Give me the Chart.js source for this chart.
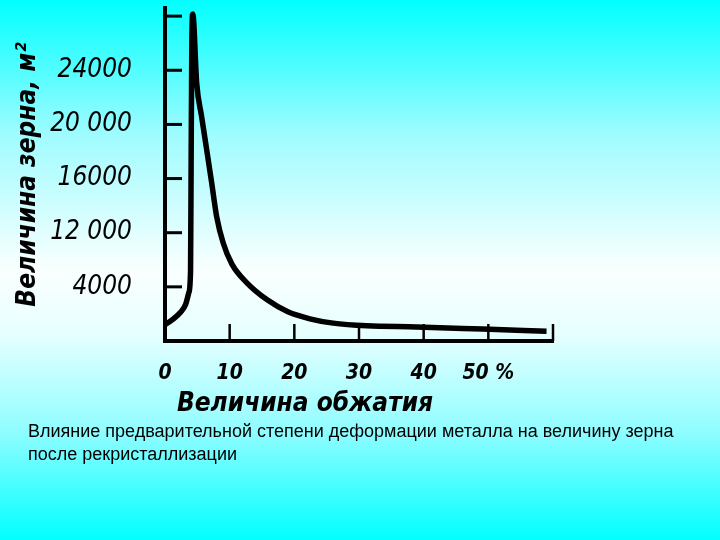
<!DOCTYPE html>
<html>
<head>
<meta charset="utf-8">
<script src="https://cdn.jsdelivr.net/npm/chart.js@4"></script>
<style>
  html, body { margin: 0; padding: 0; }
  body {
    width: 720px; height: 540px; overflow: hidden; position: relative;
    background: linear-gradient(to bottom, #00ffff 0%, #9ffcff 25%, #fafffe 50%, #e6ffff 62%, #8ffdff 80%, #00ffff 100%);
  }
  #wrap { position: absolute; left: 0; top: 0; width: 720px; height: 540px; }
  #caption {
    position: absolute; left: 28px; top: 420px; width: 680px;
    font-family: "Liberation Sans", Arial, sans-serif; font-size: 18px; line-height: 23px; color: #000;
  }
</style>
</head>
<body>
<div id="wrap"><canvas id="chart" width="720" height="540"></canvas></div>
<div id="caption">Влияние предварительной степени деформации металла на величину зерна<br>после рекристаллизации</div>
<script>
// ── Data (x: % reduction, y: grain size in tick units) ──
const deformation = [0, 1.2, 2.4, 3.2, 3.7, 3.95, 4.05, 4.15, 4.3, 4.9, 5.67, 6.45, 7.22, 8.0, 9.0, 10.35, 12.7, 15.8, 19.0, 22.4, 26, 31.2, 38.9, 49.1, 59];
const grainSize   = [0.30, 0.40, 0.53, 0.68, 0.90, 1.30, 3.53, 5.56, 6.04, 4.76, 4.14, 3.53, 2.92, 2.29, 1.81, 1.42, 1.07, 0.76, 0.54, 0.41, 0.33, 0.28, 0.26, 0.22, 0.18];

const xTicks = [0, 10, 20, 30, 40, 50, 60];
const xTickLabels = ['0', '10', '20', '30', '40', '50 %', ''];
const yTicks = [0, 1, 2, 3, 4, 5, 6];
const yTickLabels = ['', '4000', '12 000', '16000', '20 000', '24000', ''];

const yTitle = 'Величина зерна, м²';
const xTitle = 'Величина обжатия';

const tickFont = { family: '"DejaVu Sans Condensed", "DejaVu Sans", sans-serif', style: 'italic', weight: 'bold' };

// ── Inward tick marks + x title ─────────────────────
const inwardTicks = {
  id: 'inwardTicks',
  afterDatasetsDraw(chart) {
    const { ctx, chartArea: a, scales: { x, y } } = chart;
    ctx.save();
    ctx.strokeStyle = '#000';
    ctx.lineWidth = 3;
    yTicks.slice(1).forEach(v => {
      const py = y.getPixelForValue(v);
      ctx.beginPath(); ctx.moveTo(a.left, py); ctx.lineTo(a.left + 17, py); ctx.stroke();
    });
    ctx.lineWidth = 2.5;
    xTicks.slice(1).forEach(v => {
      const px = x.getPixelForValue(v);
      ctx.beginPath(); ctx.moveTo(px, a.bottom); ctx.lineTo(px, a.bottom - 17); ctx.stroke();
    });
    ctx.fillStyle = '#000';
    ctx.font = 'italic bold 26px "DejaVu Sans Condensed", "DejaVu Sans", sans-serif';
    ctx.textAlign = 'center';
    ctx.textBaseline = 'middle';
    ctx.fillText(xTitle, 305, 404);
    ctx.restore();
  }
};

new Chart(document.getElementById('chart'), {
  type: 'line',
  data: {
    datasets: [{
      data: deformation.map((d, i) => ({ x: d, y: grainSize[i] })),
      borderColor: '#000', borderWidth: 5.5, pointRadius: 0,
      cubicInterpolationMode: 'monotone', fill: false, clip: false
    }]
  },
  options: {
    responsive: false,
    animation: false,
    layout: { padding: { top: 8, right: 167, bottom: 0, left: 0 } },
    plugins: { legend: { display: false }, tooltip: { enabled: false } },
    scales: {
      x: {
        type: 'linear', min: 0, max: 60,
        afterBuildTicks: s => { s.ticks = xTicks.map(v => ({ value: v })); },
        afterFit: s => { s.height = 199; s.paddingLeft = 0; s.paddingRight = 0; },
        grid: { display: false },
        border: { display: true, color: '#000', width: 4 },
        ticks: {
          color: '#000', padding: 12, maxRotation: 0, autoSkip: false,
          font: { ...tickFont, size: 21 },
          callback: (v, i) => xTickLabels[i]
        }
      },
      y: {
        type: 'linear', min: 0, max: 6.15,
        afterBuildTicks: s => { s.ticks = yTicks.map(v => ({ value: v })); },
        afterFit: s => { s.width = 165; s.paddingTop = 0; s.paddingBottom = 0; },
        grid: { display: false },
        border: { display: true, color: '#000', width: 4 },
        title: {
          display: true, text: yTitle, color: '#000',
          padding: { top: 13, bottom: 0 },
          font: { ...tickFont, size: 26 }
        },
        ticks: {
          color: '#000', padding: 25, autoSkip: false,
          font: { ...tickFont, size: 26, weight: 'normal' },
          callback: (v, i) => yTickLabels[i]
        }
      }
    }
  },
  plugins: [inwardTicks]
});
</script>
</body>
</html>
